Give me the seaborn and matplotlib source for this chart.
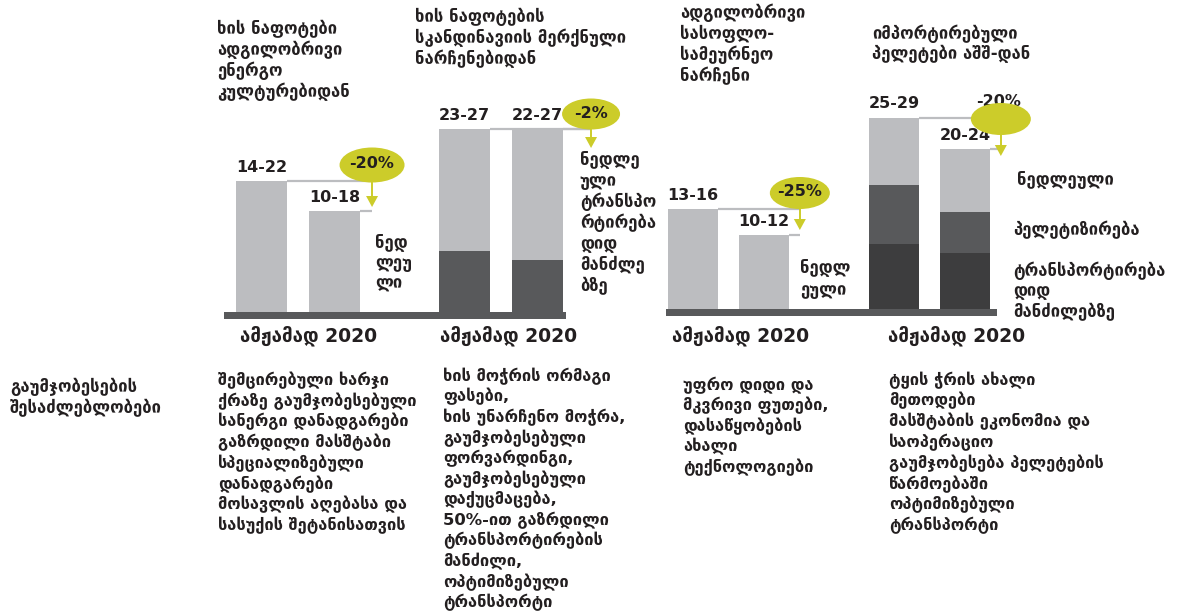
"""
ხის პელეტების ღირებულება — ამჟამად vs 2020, გაუმჯობესების შესაძლებლობები
(ინფოგრაფიკა: ორი პანელი, დაწყობილი სვეტები + ცვლილების ბუშტები)
"""
import numpy as np
import matplotlib
matplotlib.use("Agg")
import matplotlib.pyplot as plt
import seaborn as sns
from matplotlib.patches import Ellipse, Polygon

# ---- data: bar heights (px-like units) -------------------------------------
left_ranges = ["14-22", "10-18", "23-27", "22-27"]
left_raw = [131, 101, 122, 131]          # ნედლეული
left_transport = [0, 0, 61, 52]          # ტრანსპორტირება დიდ მანძილზე
left_changes = ["-20%", "-2%"]

right_ranges = ["13-16", "10-12", "25-29", "20-24"]
right_raw = [100, 74, 67, 63]            # ნედლეული
right_pellet = [0, 0, 59, 41]            # პელეტიზირება
right_transport = [0, 0, 65, 56]         # ტრანსპორტირება
right_changes = ["-25%", "-20%"]

period_label = "ამჟამად 2020"

titles = [
    ["ხის ნაფოტები", "ადგილობრივი", "ენერგო", "კულტურებიდან"],
    ["ხის ნაფოტების", "სკანდინავიის მერქნული", "ნარჩენებიდან"],
    ["ადგილობრივი", "სასოფლო-", "სამეურნეო", "ნარჩენი"],
    ["იმპორტირებული", "პელეტები აშშ-დან"],
]

side_labels = [
    ["ნედ", "ლეუ", "ლი"],
    ["ნედლე", "ული", "ტრანსპო", "რტირება", "დიდ", "მანძლე", "ბზე"],
    ["ნედლ", "ეული"],
    ["ნედლეული"],
    ["პელეტიზირება"],
    ["ტრანსპორტირება", "დიდ", "მანძილებზე"],
]

bottom_head = ["გაუმჯობესების", "შესაძლებლობები"]
bottom_cols = [
    ["შემცირებული ხარჯი", "ქრაზე გაუმჯობესებული", "სანერგი დანადგარები",
     "გაზრდილი მასშტაბი", "სპეციალიზებული", "დანადგარები",
     "მოსავლის აღებასა და", "სასუქის შეტანისათვის"],
    ["ხის მოჭრის ორმაგი", "ფასები,", "ხის უნარჩენო მოჭრა,",
     "გაუმჯობესებული", "ფორვარდინგი,", "გაუმჯობესებული", "დაქუცმაცება,",
     "50%-ით გაზრდილი", "ტრანსპორტირების", "მანძილი,",
     "ოპტიმიზებული", "ტრანსპორტი"],
    ["უფრო დიდი და", "მკვრივი ფუთები,", "დასაწყობების", "ახალი",
     "ტექნოლოგიები"],
    ["ტყის ჭრის ახალი", "მეთოდები", "მასშტაბის ეკონომია და",
     "საოპერაციო", "გაუმჯობესება პელეტების", "წარმოებაში",
     "ოპტიმიზებული", "ტრანსპორტი"],
]

# ---- style ------------------------------------------------------------------
LIGHT = "#bcbdc0"
MID = "#58595b"
DARK = "#3d3d3e"
LIME = "#cccc2a"
INK = "#231f20"

plt.rcParams["font.family"] = ["DejaVu Sans"]
plt.rcParams["font.weight"] = "bold"

W, H = 1189, 613
fig = plt.figure(figsize=(W / 100, H / 100), dpi=100)


def finish(ax, base):
    # 1 data unit == 1 px, zero at the baseline (px from top)
    ax.set_xlim(0, W)
    ax.set_ylim(-(H - base), base)
    ax.axis("off")


def stacked(ax, xs, layers, colors):
    # layers bottom -> top; draw tallest cumulative first
    cum = np.cumsum(np.array(layers), axis=0)
    for level in range(len(layers) - 1, -1, -1):
        sns.barplot(x=xs, y=cum[level], native_scale=True, width=0.7,
                    color=colors[level], saturation=1, errorbar=None,
                    linewidth=0, ax=ax, zorder=3)
    return cum[-1]


ax_t = fig.add_axes([0, 0, 1, 1])
ax_t.set_xlim(0, W)
ax_t.set_ylim(H, 0)
ax_t.axis("off")
ax_t.set_zorder(10)
ax_t.patch.set_alpha(0)


def block(x, y0, lines, dy, size=12, **kw):
    for i, s in enumerate(lines):
        ax_t.text(x, y0 + i * dy, s, fontsize=size, color=INK,
                  va="center", ha="left", fontweight="bold", **kw)


# ---- panels -----------------------------------------------------------------
panels = [
    dict(base=312, starts=[261.5, 464.5], step=73, span=(224, 566),
         layers=[left_transport, left_raw], colors=[MID, LIGHT],
         ranges=left_ranges, changes=left_changes,
         arrow_off=[12, 28], ell_y=[165, 114], ell_wh=[(65, 35), (58, 31)],
         tip=[207, 148]),
    dict(base=309, starts=[693, 894], step=71, span=(666, 997),
         layers=[right_transport, right_pellet, right_raw],
         colors=[DARK, MID, LIGHT],
         ranges=right_ranges, changes=right_changes,
         arrow_off=[11, 11], ell_y=[193, 119], ell_wh=[(60, 32), (60, 32)],
         tip=[230, 156]),
]

for pi, p in enumerate(panels):
    ax = fig.add_axes([0, 0, 1, 1])
    ax.patch.set_alpha(0)
    xs = [s + k * p["step"] for s in p["starts"] for k in range(2)]
    bw = 0.7 * p["step"]
    totals = stacked(ax, xs, p["layers"], p["colors"])

    # baseline strip
    ax.fill_between(list(p["span"]), -7, 0, color=MID, lw=0, zorder=2)

    for x, t, lab in zip(xs, totals, p["ranges"]):
        ax.text(x, t + 14, lab, ha="center", va="center", fontsize=11.5,
                fontweight="bold", color=INK, zorder=5)

    for g in range(2):
        a, b = 2 * g, 2 * g + 1
        axx = xs[b] + bw / 2 + p["arrow_off"][g]
        ax.plot([xs[a] + bw / 2, axx], [totals[a], totals[a]], color=LIGHT,
                lw=1.6, zorder=1, solid_capstyle="butt")
        ax.plot([xs[b] + bw / 2, axx], [totals[b], totals[b]], color=LIGHT,
                lw=1.6, zorder=1, solid_capstyle="butt")

        ey = p["ell_y"][g]
        ew, eh = p["ell_wh"][g]
        tip = p["tip"][g]
        hidden = (pi == 1 and g == 1)   # text tucked behind the bubble
        ax_t.add_patch(Ellipse((axx, ey), ew, eh, color=LIME, lw=0, zorder=4))
        ax_t.text(axx - 2 if hidden else axx, ey - 18 if hidden else ey - 1,
                  p["changes"][g], ha="center", va="center", fontsize=11.5,
                  fontweight="bold", color=INK, zorder=3 if hidden else 5)
        ax_t.plot([axx, axx], [ey + eh / 2, tip - 10], color=LIME, lw=1.4,
                  zorder=4)
        ax_t.add_patch(Polygon([(axx - 6, tip - 11), (axx + 6, tip - 11),
                                (axx, tip)], closed=True, color=LIME, lw=0,
                               zorder=4))
    finish(ax, p["base"])

# ---- texts ------------------------------------------------------------------
block(217, 29, titles[0], 21)
block(415, 17, titles[1], 21)
block(680, 13, titles[2], 21)
block(872, 34, titles[3], 20)

block(375, 243, side_labels[0], 20.5)
block(580, 160, side_labels[1], 21)
block(800, 268, side_labels[2], 22)
block(1017, 180, side_labels[3], 20)
block(1013, 230, side_labels[4], 20)
block(1013, 271, side_labels[5], 20.5)

for x in [240, 440, 672, 888]:
    ax_t.text(x, 336, period_label, fontsize=13.5, fontweight="bold",
              color=INK, va="center", ha="left")

block(10, 387, bottom_head, 21)
block(218, 380, bottom_cols[0], 20.8, size=11.8)
block(443, 376, bottom_cols[1], 20.6, size=11.8)
block(683, 385, bottom_cols[2], 20.5, size=11.8)
block(889, 380, bottom_cols[3], 20.8, size=11.8)

fig.savefig("out.png", dpi=100)
plt.close(fig)
